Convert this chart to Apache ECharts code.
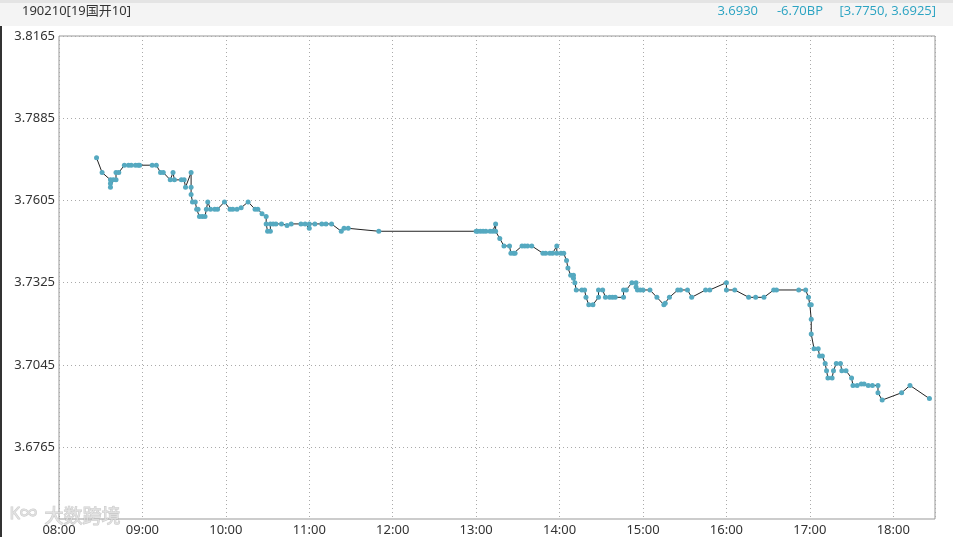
<!DOCTYPE html>
<html>
<head>
<meta charset="utf-8">
<script src="https://cdn.jsdelivr.net/npm/echarts@6/dist/echarts.min.js"></script>
<style>
html,body{margin:0;padding:0;background:#fff;}
#c{width:953px;height:537px;}
</style>
</head>
<body>
<div id="c"></div>
<script>
var title = '190210[19国开10]';
var headerRight = ['3.6930', '-6.70BP', '[3.7750, 3.6925]'];
var yTicks = [3.6765, 3.7045, 3.7325, 3.7605, 3.7885, 3.8165];
var xTickLabels = ['08:00','09:00','10:00','11:00','12:00','13:00','14:00','15:00','16:00','17:00','18:00'];
var times = [
'08:27','08:31','08:37','08:37','08:37','08:39','08:41','08:41','08:43','08:47',
'08:50','08:52','08:55','08:57','08:58','09:07','09:10','09:13','09:15','09:20',
'09:22','09:23','09:28','09:30','09:31','09:35','09:35','09:35','09:36','09:38',
'09:39','09:40','09:41','09:43','09:45','09:46','09:47','09:49','09:52','09:54',
'09:59','10:03','10:05','10:08','10:11','10:16','10:21','10:23','10:26','10:29',
'10:29','10:30','10:32','10:32','10:34','10:36','10:40','10:44','10:47','10:54',
'10:57','11:00','11:00','11:04','11:09','11:12','11:16','11:23','11:25','11:28',
'11:50','13:00','13:01','13:03','13:05','13:07','13:10','13:12','13:14','13:14',
'13:17','13:20','13:24','13:25','13:27','13:28','13:33','13:35','13:37','13:40',
'13:48','13:50','13:53','13:55','13:58','13:58','14:01','14:03','14:05','14:06',
'14:08','14:10','14:10','14:11','14:12','14:16','14:18','14:19','14:21','14:24',
'14:28','14:28','14:31','14:33','14:36','14:38','14:40','14:46','14:46','14:48',
'14:52','14:55','14:55','14:56','14:58','15:00','15:05','15:10','15:15','15:16',
'15:19','15:25','15:27','15:32','15:35','15:45','15:48','16:00','16:00','16:06',
'16:16','16:21','16:27','16:34','16:36','16:52','16:57','16:59','17:00','17:01',
'17:01','17:01','17:03','17:06','17:07','17:09','17:11','17:12','17:13','17:16',
'17:17','17:19','17:22','17:23','17:26','17:30','17:31','17:34','17:37','17:39',
'17:42','17:45','17:49','17:49','17:52','18:06','18:12','18:26'
];
var yields = [
3.7750,3.7700,3.7675,3.7663,3.7650,3.7675,3.7675,3.7700,3.7700,3.7725,
3.7725,3.7725,3.7725,3.7725,3.7725,3.7725,3.7725,3.7700,3.7700,3.7675,
3.7700,3.7675,3.7675,3.7675,3.7650,3.7700,3.7650,3.7625,3.7600,3.7600,
3.7575,3.7575,3.7550,3.7550,3.7550,3.7575,3.7600,3.7575,3.7575,3.7575,
3.7600,3.7575,3.7575,3.7575,3.7580,3.7600,3.7575,3.7575,3.7560,3.7550,
3.7525,3.7500,3.7500,3.7525,3.7525,3.7525,3.7525,3.7520,3.7525,3.7525,
3.7525,3.7510,3.7525,3.7525,3.7525,3.7525,3.7525,3.7500,3.7510,3.7510,
3.7500,3.7500,3.7500,3.7500,3.7500,3.7500,3.7500,3.7500,3.7525,3.7500,
3.7475,3.7450,3.7450,3.7425,3.7425,3.7425,3.7450,3.7450,3.7450,3.7450,
3.7425,3.7425,3.7425,3.7425,3.7450,3.7425,3.7425,3.7425,3.7400,3.7375,
3.7350,3.7350,3.7340,3.7325,3.7300,3.7300,3.7300,3.7275,3.7250,3.7250,
3.7275,3.7300,3.7300,3.7275,3.7275,3.7275,3.7275,3.7275,3.7300,3.7300,
3.7325,3.7325,3.7310,3.7300,3.7300,3.7300,3.7300,3.7275,3.7250,3.7255,
3.7275,3.7300,3.7300,3.7300,3.7275,3.7300,3.7300,3.7325,3.7300,3.7300,
3.7275,3.7275,3.7275,3.7300,3.7300,3.7300,3.7300,3.7275,3.7250,3.7250,
3.7200,3.7150,3.7100,3.7100,3.7075,3.7075,3.7050,3.7025,3.7000,3.7000,
3.7025,3.7050,3.7050,3.7025,3.7025,3.7000,3.6975,3.6975,3.6980,3.6980,
3.6975,3.6975,3.6975,3.6950,3.6925,3.6950,3.6975,3.6930
];

function toMin(s){ var p = s.split(':'); return (+p[0] - 8) * 60 + (+p[1]); }
function fmt(m){ var h = 8 + Math.floor(m / 60), mm = m % 60; return (h < 10 ? '0' : '') + h + ':' + (mm < 10 ? '0' : '') + mm; }
var data = times.map(function(t, i){ return [toMin(t), yields[i]]; });

var FONT = '"Noto Sans", "Noto Sans CJK SC", sans-serif';
var HFONT = '"Open Sans", "Noto Sans", sans-serif';
var chart = echarts.init(document.getElementById('c'), null, {renderer: 'canvas'});
chart.setOption({
  animation: false,
  backgroundColor: '#fff',
  grid: {left: 59, right: 18, top: 36, bottom: 18, show: true, borderColor: '#999', borderWidth: 1, backgroundColor: 'transparent'},
  xAxis: {
    type: 'value', min: 0, max: 630, interval: 60,
    axisLine: {show: false}, axisTick: {show: false},
    axisLabel: {color: '#333', fontSize: 13, fontFamily: FONT, margin: 5, showMaxLabel: false,
      formatter: function(v){ var i = v / 60; return xTickLabels[i] !== undefined ? xTickLabels[i] : fmt(v); }},
    splitLine: {show: true, lineStyle: {color: '#aaa', type: [1, 3], width: 1}}
  },
  yAxis: {
    type: 'value', min: 3.652, max: 3.8165, scale: true,
    axisLine: {show: false},
    axisTick: {show: false, customValues: yTicks},
    axisLabel: {color: '#333', fontSize: 13, fontFamily: FONT, margin: 4, customValues: yTicks,
      formatter: function(v){ return v.toFixed(4); }},
    splitLine: {show: true, lineStyle: {color: '#aaa', type: [1, 3], width: 1}}
  },
  series: [{
    type: 'line', data: data,
    symbol: 'circle', symbolSize: 5, showAllSymbol: true,
    lineStyle: {color: '#222', width: 1},
    itemStyle: {color: '#55a9c0', borderWidth: 0},
    z: 3
  }],
  graphic: [
    {type: 'rect', shape: {x: 0, y: 0, width: 953, height: 26}, style: {fill: '#f4f4f4'}, z: -1},
    {type: 'rect', shape: {x: 0, y: 0, width: 953, height: 3}, style: {fill: '#e4e4e4'}, z: -1},
    {type: 'rect', shape: {x: 0, y: 26, width: 2, height: 511}, style: {fill: '#333'}, z: 0},
    {type: 'text', left: 22, top: 5, style: {text: title, fill: '#333', fontSize: 13, fontFamily: FONT}},
    {type: 'text', right: 195, top: 5, style: {text: headerRight[0], fill: '#2aa3c2', fontSize: 13, fontFamily: HFONT}},
    {type: 'text', right: 130, top: 5, style: {text: headerRight[1], fill: '#2aa3c2', fontSize: 13, fontFamily: HFONT}},
    {type: 'text', right: 17, top: 5, style: {text: headerRight[2], fill: '#2aa3c2', fontSize: 13, fontFamily: HFONT}},
    {type: 'text', left: 44, top: 506, style: {text: '大数跨境', fill: 'rgba(225,225,225,0.85)', stroke: 'rgba(170,170,170,0.6)', lineWidth: 1, fontSize: 19, fontFamily: '"Noto Sans CJK SC", sans-serif'}, z: 10},
    {type: 'text', left: 9, top: 505, style: {text: 'K∞', fill: 'rgba(225,225,225,0.85)', stroke: 'rgba(170,170,170,0.6)', lineWidth: 1, fontSize: 17, fontFamily: FONT}, z: 10}
  ]
});
</script>
</body>
</html>
